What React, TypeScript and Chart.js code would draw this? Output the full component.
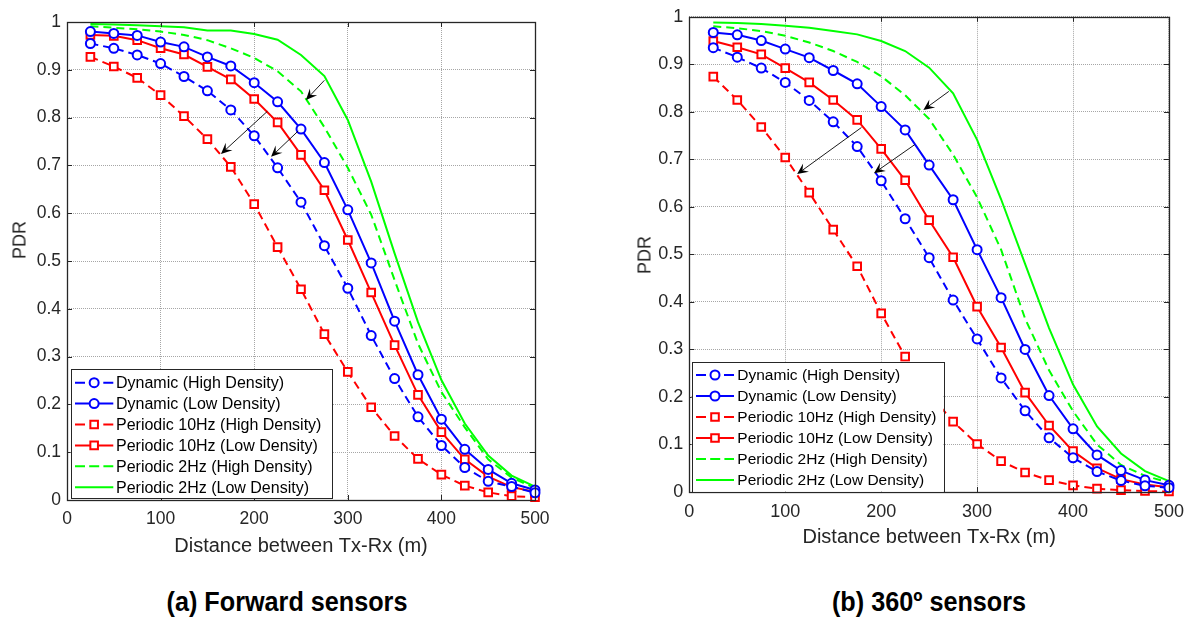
import React, { useEffect, useRef } from "react";
import { Chart, registerables } from "chart.js";

Chart.register(...registerables);

// ---------------- DATA ----------------
const distances = [25, 50, 75, 100, 125, 150, 175, 200, 225, 250, 275, 300, 325, 350, 375, 400, 425, 450, 475, 500];
const xTickValues = [0, 100, 200, 300, 400, 500];
const yTickValues = [0, 0.1, 0.2, 0.3, 0.4, 0.5, 0.6, 0.7, 0.8, 0.9, 1];

const seriesNames = [
  "Dynamic (High Density)",
  "Dynamic (Low Density)",
  "Periodic 10Hz (High Density)",
  "Periodic 10Hz (Low Density)",
  "Periodic 2Hz (High Density)",
  "Periodic 2Hz (Low Density)",
];

// (a) Forward sensors
const fwdDynamicHigh = [0.955, 0.945, 0.931, 0.913, 0.886, 0.856, 0.816, 0.762, 0.695, 0.623, 0.532, 0.443, 0.344, 0.254, 0.174, 0.114, 0.068, 0.039, 0.028, 0.015];
const fwdDynamicLow = [0.980, 0.976, 0.972, 0.958, 0.948, 0.927, 0.908, 0.873, 0.833, 0.776, 0.706, 0.607, 0.496, 0.374, 0.262, 0.169, 0.106, 0.064, 0.035, 0.021];
const fwdPeriodic10High = [0.927, 0.907, 0.883, 0.847, 0.803, 0.755, 0.697, 0.619, 0.529, 0.441, 0.347, 0.268, 0.194, 0.134, 0.086, 0.053, 0.030, 0.016, 0.008, 0.006];
const fwdPeriodic10Low = [0.973, 0.971, 0.962, 0.945, 0.932, 0.906, 0.880, 0.839, 0.790, 0.722, 0.648, 0.544, 0.434, 0.324, 0.220, 0.142, 0.085, 0.049, 0.027, 0.017];
const fwdPeriodic2High = [0.991, 0.988, 0.985, 0.980, 0.973, 0.962, 0.945, 0.925, 0.897, 0.855, 0.780, 0.695, 0.597, 0.460, 0.327, 0.226, 0.152, 0.085, 0.047, 0.025];
const fwdPeriodic2Low = [0.996, 0.995, 0.993, 0.991, 0.989, 0.982, 0.982, 0.975, 0.963, 0.931, 0.887, 0.795, 0.666, 0.516, 0.372, 0.251, 0.160, 0.093, 0.051, 0.028];

// (b) 360º sensors
const omniDynamicHigh = [0.935, 0.915, 0.892, 0.862, 0.824, 0.779, 0.727, 0.655, 0.575, 0.493, 0.404, 0.322, 0.240, 0.171, 0.114, 0.072, 0.043, 0.024, 0.013, 0.009];
const omniDynamicLow = [0.967, 0.962, 0.950, 0.932, 0.914, 0.887, 0.859, 0.811, 0.762, 0.688, 0.615, 0.510, 0.409, 0.300, 0.203, 0.133, 0.078, 0.045, 0.025, 0.014];
const omniPeriodic10High = [0.874, 0.825, 0.768, 0.704, 0.630, 0.552, 0.475, 0.376, 0.285, 0.207, 0.148, 0.101, 0.065, 0.041, 0.025, 0.014, 0.007, 0.004, 0.002, 0.001];
const omniPeriodic10Low = [0.949, 0.936, 0.921, 0.892, 0.862, 0.825, 0.783, 0.722, 0.656, 0.572, 0.494, 0.390, 0.304, 0.209, 0.140, 0.086, 0.050, 0.027, 0.016, 0.010];
const omniPeriodic2High = [0.980, 0.976, 0.970, 0.960, 0.946, 0.928, 0.905, 0.875, 0.835, 0.785, 0.710, 0.620, 0.510, 0.365, 0.256, 0.170, 0.100, 0.057, 0.034, 0.020];
const omniPeriodic2Low = [0.988, 0.987, 0.985, 0.981, 0.977, 0.970, 0.963, 0.949, 0.928, 0.893, 0.839, 0.741, 0.616, 0.480, 0.345, 0.226, 0.138, 0.081, 0.044, 0.023];

// annotation arrows, in data units: [fromX, fromY, toX, toY]
const fwdArrows = [
  [275, 0.878, 255.3, 0.837],
  [214, 0.813, 164.5, 0.724],
  [247, 0.772, 218, 0.718],
];
const omniArrows = [
  [270.5, 0.843, 244, 0.804],
  [179.4, 0.767, 112.4, 0.669],
  [235, 0.731, 192.5, 0.671],
];

const xAxisTitle = "Distance between Tx-Rx (m)";
const yAxisTitle = "PDR";
const captions = ["(a) Forward sensors", "(b) 360º sensors"];

// ---------------- STYLE ----------------
const FONT = "'Liberation Sans', Arial, Helvetica, sans-serif";
const TEXT = "#262626";
const GRID = "#a6a6a6";
const seriesStyles = [
  { color: "#0000ff", dashed: true, marker: "circle" },
  { color: "#0000ff", dashed: false, marker: "circle" },
  { color: "#ff0000", dashed: true, marker: "rect" },
  { color: "#ff0000", dashed: false, marker: "rect" },
  { color: "#00ff00", dashed: true, marker: "none" },
  { color: "#00ff00", dashed: false, marker: "none" },
];

type Cfg = {
  left: number;
  width: number;
  height: number;
  padTop: number;
  padRight: number;
  yAxisW: number;
  xAxisH: number;
  xTitlePad: number;
  tickFont: number;
  legendFont: number;
  legend: { dx: number; dy: number; w: number; h: number; first: number; step: number; sL: number; sR: number; textX: number };
  series: number[][];
  arrows: number[][];
};

const leftCfg: Cfg = {
  left: 0,
  width: 560,
  height: 570,
  padTop: 22,
  padRight: 25,
  yAxisW: 67,
  xAxisH: 70,
  xTitlePad: 12,
  tickFont: 17.5,
  legendFont: 16,
  legend: { dx: 3.7, dy: 1.7, w: 261.3, h: 129.3, first: 13.7, step: 20.9, sL: 4.3, sR: 42.6, textX: 45.3 },
  series: [fwdDynamicHigh, fwdDynamicLow, fwdPeriodic10High, fwdPeriodic10Low, fwdPeriodic2High, fwdPeriodic2Low],
  arrows: fwdArrows,
};

const rightCfg: Cfg = {
  left: 600,
  width: 593,
  height: 570,
  padTop: 15,
  padRight: 18.7,
  yAxisW: 89.3,
  xAxisH: 78,
  xTitlePad: 21,
  tickFont: 18,
  legendFont: 15.5,
  legend: { dx: 2.4, dy: 0.3, w: 251.6, h: 130, first: 13.3, step: 21, sL: 4.3, sR: 42.3, textX: 45.6 },
  series: [omniDynamicHigh, omniDynamicLow, omniPeriodic10High, omniPeriodic10Low, omniPeriodic2High, omniPeriodic2Low],
  arrows: omniArrows,
};

function drawMarker(ctx: CanvasRenderingContext2D, kind: string, x: number, y: number, color: string) {
  if (kind === "none") return;
  ctx.save();
  ctx.setLineDash([]);
  ctx.fillStyle = "#ffffff";
  ctx.strokeStyle = color;
  ctx.lineWidth = 2;
  ctx.beginPath();
  if (kind === "circle") {
    ctx.arc(x, y, 4.5, 0, Math.PI * 2);
  } else {
    ctx.rect(x - 3.8, y - 3.8, 7.6, 7.6);
  }
  ctx.fill();
  ctx.stroke();
  ctx.restore();
}

function makeDecor(cfg: Cfg) {
  return {
    id: "matlabDecor",
    afterDatasetsDraw(chart: any) {
      const ctx: CanvasRenderingContext2D = chart.ctx;
      const ca = chart.chartArea;
      const xs = chart.scales.x;
      const ys = chart.scales.y;
      ctx.save();
      // inward ticks on all four sides
      ctx.strokeStyle = TEXT;
      ctx.lineWidth = 1;
      ctx.setLineDash([]);
      ctx.beginPath();
      xTickValues.forEach((v) => {
        const px = Math.round(xs.getPixelForValue(v)) + 0.5;
        ctx.moveTo(px, ca.top);
        ctx.lineTo(px, ca.top + 5);
        ctx.moveTo(px, ca.bottom);
        ctx.lineTo(px, ca.bottom - 5);
      });
      yTickValues.forEach((v) => {
        const py = Math.round(ys.getPixelForValue(v)) + 0.5;
        ctx.moveTo(ca.left, py);
        ctx.lineTo(ca.left + 5, py);
        ctx.moveTo(ca.right, py);
        ctx.lineTo(ca.right - 5, py);
      });
      ctx.stroke();
      ctx.lineWidth = 1.3;
      ctx.strokeRect(Math.round(ca.left) + 0.5, Math.round(ca.top) + 0.5, Math.round(ca.right - ca.left), Math.round(ca.bottom - ca.top));

      // arrows
      cfg.arrows.forEach(([fx, fy, tx, ty]) => {
        const x1 = xs.getPixelForValue(fx);
        const y1 = ys.getPixelForValue(fy);
        const x2 = xs.getPixelForValue(tx);
        const y2 = ys.getPixelForValue(ty);
        const ang = Math.atan2(y2 - y1, x2 - x1);
        const L = 11;
        const W = 5;
        const bx = x2 - L * Math.cos(ang);
        const by = y2 - L * Math.sin(ang);
        const nx = x2 - (L * 0.6) * Math.cos(ang);
        const ny = y2 - (L * 0.6) * Math.sin(ang);
        ctx.strokeStyle = "#000";
        ctx.lineWidth = 0.9;
        ctx.beginPath();
        ctx.moveTo(x1, y1);
        ctx.lineTo(nx, ny);
        ctx.stroke();
        ctx.fillStyle = "#000";
        ctx.beginPath();
        ctx.moveTo(x2, y2);
        ctx.lineTo(bx - W * Math.sin(ang), by + W * Math.cos(ang));
        ctx.lineTo(nx, ny);
        ctx.lineTo(bx + W * Math.sin(ang), by - W * Math.cos(ang));
        ctx.closePath();
        ctx.fill();
      });

      // legend box
      const lg = cfg.legend;
      const bx0 = ca.left + lg.dx;
      const by1 = ca.bottom - lg.dy;
      const by0 = by1 - lg.h;
      ctx.fillStyle = "#ffffff";
      ctx.fillRect(bx0, by0, lg.w, lg.h);
      ctx.strokeStyle = "#262626";
      ctx.lineWidth = 1;
      ctx.strokeRect(Math.round(bx0) + 0.5, Math.round(by0) + 0.5, Math.round(lg.w), Math.round(lg.h));
      ctx.font = `${cfg.legendFont}px ${FONT}`;
      ctx.textBaseline = "middle";
      ctx.textAlign = "left";
      seriesNames.forEach((name, i) => {
        const st = seriesStyles[i];
        const cy = by0 + lg.first + i * lg.step;
        const sx0 = bx0 + lg.sL;
        const sx1 = bx0 + lg.sR;
        ctx.strokeStyle = st.color;
        ctx.lineWidth = 2;
        ctx.beginPath();
        if (st.dashed && st.marker !== "none") {
          ctx.setLineDash([]);
          ctx.moveTo(sx0, cy);
          ctx.lineTo(sx0 + 10, cy);
          ctx.moveTo(sx1 - 10, cy);
          ctx.lineTo(sx1, cy);
        } else if (st.dashed) {
          ctx.setLineDash([10, 4.2]);
          ctx.moveTo(sx0, cy);
          ctx.lineTo(sx1, cy);
        } else {
          ctx.setLineDash([]);
          ctx.moveTo(sx0, cy);
          ctx.lineTo(sx1, cy);
        }
        ctx.stroke();
        ctx.setLineDash([]);
        drawMarker(ctx, st.marker, (sx0 + sx1) / 2, cy, st.color);
        ctx.fillStyle = "#000";
        ctx.fillText(name, bx0 + lg.textX, cy + 1);
      });
      ctx.restore();
    },
  };
}

function PdrChart({ cfg }: { cfg: Cfg }) {
  const ref = useRef<HTMLCanvasElement>(null);
  useEffect(() => {
    const canvas = ref.current;
    if (!canvas) return;
    const datasets = cfg.series.map((vals, i) => {
      const st = seriesStyles[i];
      return {
        label: seriesNames[i],
        data: distances.map((d, k) => ({ x: d, y: vals[k] })),
        borderColor: st.color,
        backgroundColor: "#ffffff",
        borderWidth: 2,
        borderDash: st.dashed ? [8, 5] : [],
        pointStyle: st.marker === "rect" ? "rect" : "circle",
        pointRadius: st.marker === "none" ? 0 : st.marker === "rect" ? 5.4 : 4.5,
        pointBorderWidth: 2,
        pointBorderColor: st.color,
        pointBackgroundColor: "#ffffff",
        tension: 0,
        fill: false,
        clip: false as any,
      };
    });
    const chart = new Chart(canvas, {
      type: "line",
      data: { datasets },
      options: {
        animation: false,
        responsive: false,
        devicePixelRatio: 1,
        events: [],
        layout: { padding: { left: 0, top: cfg.padTop, right: cfg.padRight, bottom: 0 } },
        plugins: { legend: { display: false }, tooltip: { enabled: false } },
        scales: {
          x: {
            type: "linear",
            min: 0,
            max: 500,
            afterFit: (s: any) => {
              s.height = cfg.xAxisH;
            },
            ticks: {
              stepSize: 100,
              padding: 9,
              maxRotation: 0,
              autoSkip: false,
              color: TEXT,
              font: { size: cfg.tickFont, family: FONT },
            },
            grid: { color: GRID, lineWidth: 1, drawTicks: false },
            border: { display: false, dash: [1, 1] },
            title: {
              display: true,
              text: xAxisTitle,
              color: TEXT,
              font: { size: 20, family: FONT },
              padding: { top: 0, bottom: cfg.xTitlePad },
            },
          },
          y: {
            type: "linear",
            min: 0,
            max: 1,
            afterFit: (s: any) => {
              s.width = cfg.yAxisW;
            },
            ticks: {
              stepSize: 0.1,
              padding: 6,
              color: TEXT,
              font: { size: cfg.tickFont, family: FONT },
              callback: (v: any) => String(Math.round(Number(v) * 10) / 10),
            },
            grid: { color: GRID, lineWidth: 1, drawTicks: false },
            border: { display: false, dash: [1, 1] },
          },
        },
      } as any,
      plugins: [makeDecor(cfg)],
    });
    return () => chart.destroy();
  }, [cfg]);
  return (
    <canvas
      ref={ref}
      width={cfg.width}
      height={cfg.height}
      style={{ position: "absolute", left: cfg.left, top: 0, width: cfg.width, height: cfg.height }}
    />
  );
}

const labelBase: React.CSSProperties = {
  position: "absolute",
  whiteSpace: "nowrap",
  fontFamily: FONT,
  color: TEXT,
};

export default function App() {
  return (
    <div
      style={{
        position: "absolute",
        left: 0,
        top: 0,
        width: 1193,
        height: 623,
        background: "#ffffff",
        overflow: "hidden",
      }}
    >
      <PdrChart cfg={leftCfg} />
      <PdrChart cfg={rightCfg} />
      <div style={{ ...labelBase, left: 20, top: 240, fontSize: 18, transform: "translate(-50%, -50%) rotate(-90deg)" }}>
        {yAxisTitle}
      </div>
      <div style={{ ...labelBase, left: 645, top: 255, fontSize: 18, transform: "translate(-50%, -50%) rotate(-90deg)" }}>
        {yAxisTitle}
      </div>
      <div
        style={{
          ...labelBase,
          left: 287,
          top: 602,
          fontSize: 28,
          fontWeight: "bold",
          color: "#000",
          transform: "translate(-50%, -50%) scaleX(0.9)",
        }}
      >
        {captions[0]}
      </div>
      <div
        style={{
          ...labelBase,
          left: 929,
          top: 602,
          fontSize: 28,
          fontWeight: "bold",
          color: "#000",
          transform: "translate(-50%, -50%) scaleX(0.9)",
        }}
      >
        {captions[1]}
      </div>
    </div>
  );
}
